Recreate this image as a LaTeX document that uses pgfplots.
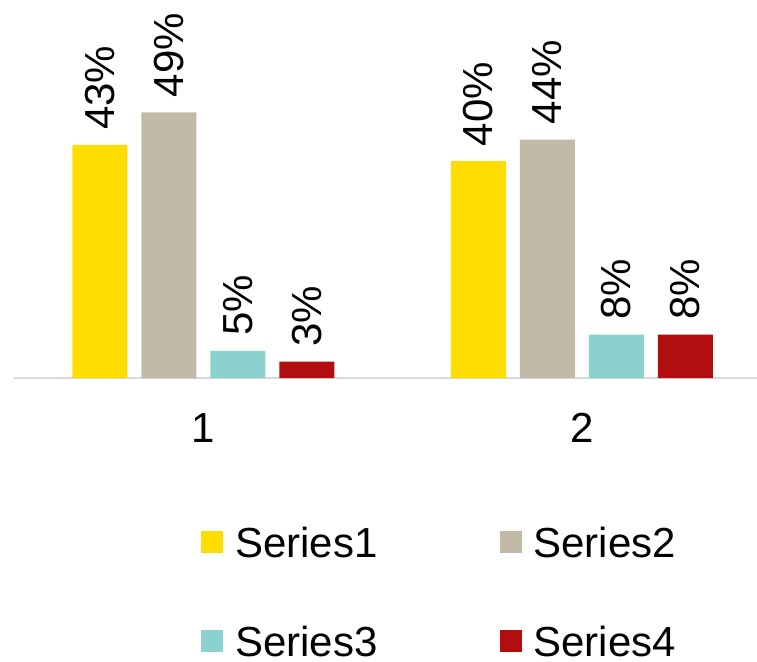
\documentclass[border=0pt]{standalone}
\usepackage{fontspec}
\setmainfont{Liberation Sans}
\usepackage{pgfplots}
\pgfplotsset{compat=1.18}

\definecolor{sYellow}{HTML}{FFDD00}
\definecolor{sTan}{HTML}{C2BAA6}
\definecolor{sTeal}{HTML}{8BD2CE}
\definecolor{sRed}{HTML}{B20E10}
\definecolor{axisgray}{HTML}{D9D9D9}

\begin{document}
\begin{tikzpicture}
\begin{axis}[
  at={(14bp,284bp)}, anchor=south west,
  scale only axis,
  width=743bp, height=271bp,
  xmin=0.5, xmax=2.4625,
  ymin=0, ymax=50,
  clip=false,
  axis x line*=bottom,
  axis y line=none,
  x axis line style={draw=axisgray, line width=1.2bp, -},
  xtick={1,2},
  major tick length=0pt,
  ytick=\empty,
  /pgf/number format/assume math mode=true,
  xticklabel style={font=\fontsize{42bp}{50bp}\selectfont, anchor=north, inner sep=0pt, yshift=-35bp},
  ybar=14bp,
  bar width=55bp,
  every axis plot/.append style={draw=none},
  nodes near coords={\pgfmathprintnumber{\pgfplotspointmeta}\%},
  every node near coord/.append style={
    font=\fontsize{42bp}{50bp}\selectfont, text=black,
    rotate=90, anchor=west, inner xsep=15bp, inner ysep=0pt},
  legend columns=2,
  legend style={
    at={(0.2517,-0.543)}, anchor=north west,
    draw=none, fill=none, inner sep=0pt,
    font=\fontsize{42bp}{50bp}\selectfont,
    row sep=63bp,
    /tikz/every odd column/.append style={column sep=10bp},
    /tikz/every even column/.append style={column sep=120bp},
  },
  legend image code/.code={\fill[#1] (0bp,-10bp) rectangle (22bp,12bp);},
]
\addplot[fill=sYellow] coordinates {(1,43) (2,40)};
\addplot[fill=sTan]    coordinates {(1,49) (2,44)};
\addplot[fill=sTeal]   coordinates {(1,5) (2,8)};
\addplot[fill=sRed]    coordinates {(1,3) (2,8)};
\legend{Series1,Series2,Series3,Series4}
\end{axis}
\pgfresetboundingbox
\useasboundingbox (0,0) rectangle (757bp,662bp);
\end{tikzpicture}
\end{document}
